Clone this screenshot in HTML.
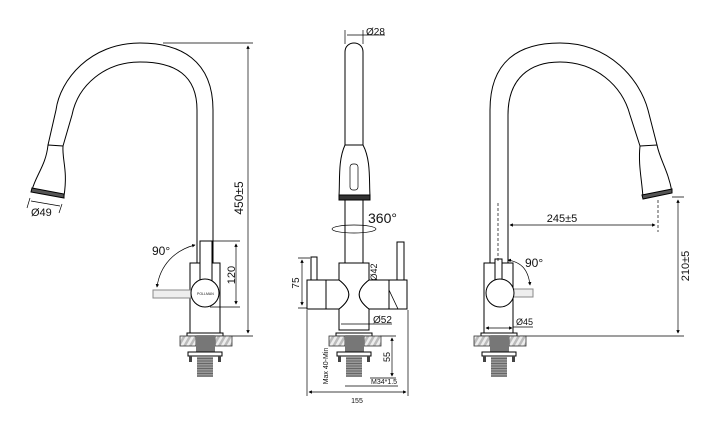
<!DOCTYPE html>
<html><head><meta charset="utf-8"><style>
html,body{margin:0;padding:0;background:#fff;width:720px;height:426px;overflow:hidden}
svg{display:block}
text{font-family:"Liberation Sans",sans-serif;fill:#111}
</style></head><body>
<svg width="720" height="426" viewBox="0 0 720 426" xmlns="http://www.w3.org/2000/svg">
<defs>
<pattern id="hat" width="5" height="5" patternUnits="userSpaceOnUse" patternTransform="rotate(30)">
<rect width="5" height="5" fill="#bbb"/><rect width="2.5" height="5" fill="#eee"/></pattern>
<pattern id="thr" width="4" height="2.5" patternUnits="userSpaceOnUse"><rect width="4" height="2.5" fill="#999"/><rect width="4" height="1" fill="#666"/></pattern>
<g id="base">
<rect x="-18" y="0" width="36" height="3" fill="#fff" stroke="#000"/>
<rect x="-25" y="3" width="16" height="10" fill="url(#hat)" stroke="#333" stroke-width="0.8"/>
<rect x="10" y="3" width="17" height="10" fill="url(#hat)" stroke="#333" stroke-width="0.8"/>
<rect x="-9" y="3" width="19" height="17" fill="#777"/>
<rect x="-17" y="19" width="34" height="4" fill="#fff" stroke="#000"/>
<rect x="-16" y="23" width="3" height="6" fill="#444"/><rect x="13" y="23" width="3" height="6" fill="#444"/>
<rect x="-8" y="23" width="16" height="21" fill="url(#thr)"/>
</g>
<marker id="ar" viewBox="0 0 6 6" refX="5" refY="3" markerWidth="5" markerHeight="5" orient="auto-start-reverse"><path d="M0,0L6,3L0,6z" fill="#000"/></marker>
</defs>
<g fill="none" stroke="#000" stroke-width="1">
<!-- LEFT faucet -->
<path d="M213,263 L213,110 C213,60 180,43 140,43 C90,43 60,80 56,110 L48,145"/>
<path d="M197,263 L197,110 C197,75 175,62 140,62 C105,62 78,85 72,115 L63,146"/>
<path d="M48,145 L63,146 C62,160 68,170 64,196 L32,190 C36,175 46,165 48,145 Z" fill="#fff"/>
<path d="M32,188 L64,194 L64,198 L31,192 Z" fill="#555"/>
<rect x="190" y="263" width="30" height="70" fill="#fff"/>
<rect x="153" y="290" width="38" height="8" fill="#eee" stroke="#888"/>
<rect x="200" y="241" width="12" height="50" fill="#fff"/>
<circle cx="205" cy="293" r="14" fill="#fff"/>
<!-- dims left -->
<path d="M163,43 L253,43 M216,336 L253,336" stroke-width="0.7"/>
<path d="M248,46 L248,333" marker-start="url(#ar)" marker-end="url(#ar)" stroke-width="0.7"/>
<path d="M212,241 L240,241 M210,307 L240,307" stroke-width="0.7"/>
<path d="M236,244 L236,304" marker-start="url(#ar)" marker-end="url(#ar)" stroke-width="0.7"/>
<path d="M195,245 C175,250 160,265 157,287" marker-start="url(#ar)" marker-end="url(#ar)" stroke-width="0.7"/>
<path d="M30,198 L27,208 M62,204 L59,213 M31,201 L60,206" stroke-width="0.7"/>

<!-- MIDDLE faucet -->
<path d="M345,145 L345,52 C345,40 363,40 363,52 L363,145" fill="#fff"/>
<path d="M345,145 C338,160 340,180 339,196 L370,196 C369,180 371,160 363,145 Z" fill="#fff"/>
<rect x="339" y="195" width="31" height="5" fill="#333"/>
<rect x="350" y="164" width="8" height="26" rx="3" fill="#fff" stroke-width="0.7"/>
<rect x="345" y="200" width="18" height="63" fill="#fff"/>
<ellipse cx="354" cy="229" rx="22" ry="4" stroke-width="0.7"/>
<path d="M339,263 L369,263 L369,280 C356,290 356,299 369,309 L369,330 L339,330 L339,309 C352,299 352,290 339,280 Z" fill="#fff"/>
<rect x="307" y="280" width="19" height="29" fill="#fff"/>
<path d="M326,280 L339,280 C352,290 352,299 339,309 L326,309 Z" fill="#fff"/>
<path d="M369,280 L389,280 L389,309 L369,309 C356,299 356,290 369,280 Z" fill="#fff"/>
<rect x="389" y="280" width="18" height="29" fill="#fff"/>
<path d="M389,290 L398,309" stroke-width="0.8"/>
<rect x="311" y="257" width="6" height="23" fill="#fff"/>
<rect x="397" y="242" width="7" height="38" fill="#fff"/>
<!-- dims middle -->
<path d="M345,30 L345,44 M363,30 L363,44" stroke-width="0.7"/>
<path d="M347,35 L361,35 L385,35" stroke-width="0.7"/>
<path d="M298,258 L310,258 M298,308 L307,308" stroke-width="0.7"/>
<path d="M302,260 L302,305" marker-start="url(#ar)" marker-end="url(#ar)" stroke-width="0.7"/>
<path d="M339,318 L339,330 M369,318 L369,330" stroke-width="0.7"/>
<path d="M341,324 L367,324 L392,324" stroke-width="0.7"/>
<path d="M307,310 L307,396 M408,310 L408,396" stroke-width="0.7"/>
<path d="M309,392 L406,392" marker-start="url(#ar)" marker-end="url(#ar)" stroke-width="0.7"/>
<path d="M380,336 L396,336 M370,378 L396,378" stroke-width="0.7"/>
<path d="M392,338 L392,376" marker-start="url(#ar)" marker-end="url(#ar)" stroke-width="0.7"/>
<path d="M345,386 L398,386" stroke-width="0.7"/>

<!-- RIGHT faucet -->
<path d="M490,263 L490,110 C490,60 520,43 560,43 C610,43 640,80 648,110 L657,145"/>
<path d="M508,263 L508,115 C508,78 530,62 560,62 C595,62 622,85 630,115 L640,146"/>
<path d="M640,146 L657,145 C660,160 668,170 672,192 L643,198 C642,180 638,165 640,146 Z" fill="#fff"/>
<path d="M642,195 L672,189 L672,193 L643,199 Z" fill="#555"/>
<rect x="484" y="263" width="29" height="70" fill="#fff"/>
<rect x="512" y="289" width="21" height="8" fill="#eee" stroke="#888"/>
<rect x="495" y="259" width="7" height="28" fill="#fff"/>
<circle cx="500" cy="293" r="14" fill="#fff"/>
<!-- dims right -->
<path d="M498,203 L498,262 M658,200 L658,232" stroke-dasharray="3,2" stroke-width="0.7"/>
<path d="M510,225 L655,225" marker-start="url(#ar)" marker-end="url(#ar)" stroke-width="0.7"/>
<path d="M672,197 L684,197 M520,336 L684,336" stroke-width="0.7"/>
<path d="M678,200 L678,333" marker-start="url(#ar)" marker-end="url(#ar)" stroke-width="0.7"/>
<path d="M508,260 C520,262 528,268 530,285" marker-start="url(#ar)" marker-end="url(#ar)" stroke-width="0.7"/>
<path d="M486,328 L512,328" marker-start="url(#ar)" marker-end="url(#ar)" stroke-width="0.7"/>
<path d="M513,327 L533,327" stroke-width="0.7"/>
</g>
<use href="#base" x="205" y="333"/>
<use href="#base" x="354" y="333"/>
<use href="#base" x="499" y="333"/>
<!-- texts -->
<text x="243" y="198" font-size="12" transform="rotate(-90 243 198)" text-anchor="middle">450±5</text>
<text x="235" y="275" font-size="11" transform="rotate(-90 235 275)" text-anchor="middle">120</text>
<text x="152" y="255" font-size="12">90°</text>
<text x="31" y="216" font-size="11">Ø49</text>
<text x="197" y="295" font-size="3.5">POLLMAN</text>
<text x="366" y="35" font-size="10">Ø28</text>
<text x="368" y="223" font-size="14">360°</text>
<text x="377" y="272" font-size="9" transform="rotate(-90 377 272)" text-anchor="middle">Ø42</text>
<text x="299" y="283" font-size="10" transform="rotate(-90 299 283)" text-anchor="middle">75</text>
<text x="373" y="323" font-size="10">Ø52</text>
<text x="390" y="357" font-size="9" transform="rotate(-90 390 357)" text-anchor="middle">55</text>
<text x="371" y="384" font-size="7">M34*1.5</text>
<text x="328" y="366" font-size="7" transform="rotate(-90 328 366)" text-anchor="middle">Max 40-Min</text>
<text x="357" y="403" font-size="7" text-anchor="middle">155</text>
<text x="562" y="222" font-size="11" text-anchor="middle">245±5</text>
<text x="689" y="266" font-size="11" transform="rotate(-90 689 266)" text-anchor="middle">210±5</text>
<text x="525" y="267" font-size="12">90°</text>
<text x="516" y="325" font-size="9">Ø45</text>
</svg>
</body></html>
